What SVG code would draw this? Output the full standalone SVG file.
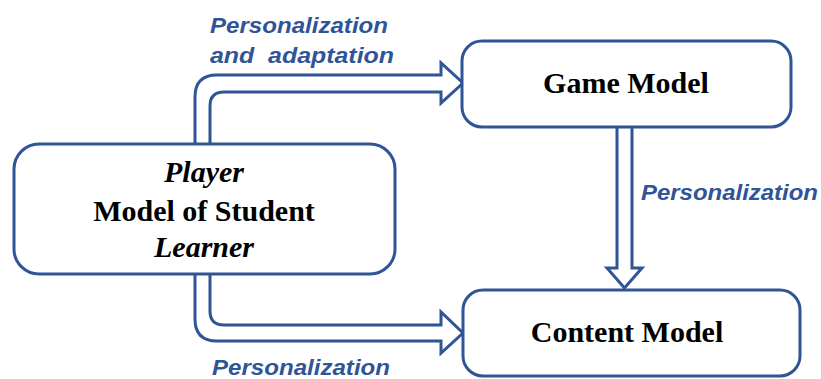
<svg xmlns="http://www.w3.org/2000/svg" width="821" height="379" viewBox="0 0 821 379">
<style>
.box{fill:#fff;stroke:#2f5597;stroke-width:3}
.arr{fill:#fff;stroke:#2f5597;stroke-width:3;stroke-linejoin:miter}
.lbl{font-family:"Liberation Sans",Arial,sans-serif;font-weight:bold;font-style:italic;font-size:22px;fill:#2f5597}
.t{font-family:"Liberation Serif","Times New Roman",serif;font-weight:bold;font-size:30px;fill:#000;text-anchor:middle}
.i{font-style:italic}
</style>
<rect width="821" height="379" fill="#fff"/>
<g id="connectors">
<path class="arr" d="M195,144 V97 Q195,75 217,75 H441 V63 L463,83 L441,103 V92 H224 Q210,92 210,106 V144"/>
<path class="arr" d="M195,273 V319 Q195,341 217,341 H441 V353 L463,333 L441,312 V325 H224 Q210,325 210,311 V273"/>
<path class="arr" d="M617,127 V268 H607 L624.5,288 L642,268 H632 V127"/>
<text class="lbl" x="210" y="33" textLength="178" lengthAdjust="spacingAndGlyphs">Personalization</text>
<text class="lbl" x="210" y="63" textLength="184" lengthAdjust="spacingAndGlyphs" xml:space="preserve">and  adaptation</text>
<text class="lbl" x="641" y="200" textLength="177" lengthAdjust="spacingAndGlyphs">Personalization</text>
<text class="lbl" x="212" y="375" textLength="178" lengthAdjust="spacingAndGlyphs">Personalization</text>
</g>
<g id="player">
<rect class="box" x="14" y="144" width="381" height="130" rx="25"/>
<text class="t i" x="204" y="182">Player</text>
<text class="t" x="204" y="221">Model of Student</text>
<text class="t i" x="204" y="257">Learner</text>
</g>
<g id="game">
<rect class="box" x="462" y="41" width="329" height="86" rx="20"/>
<text class="t" x="626" y="93">Game Model</text>
</g>
<g id="content">
<rect class="box" x="463" y="290" width="337" height="86" rx="20"/>
<text class="t" x="627" y="342">Content Model</text>
</g>
</svg>
